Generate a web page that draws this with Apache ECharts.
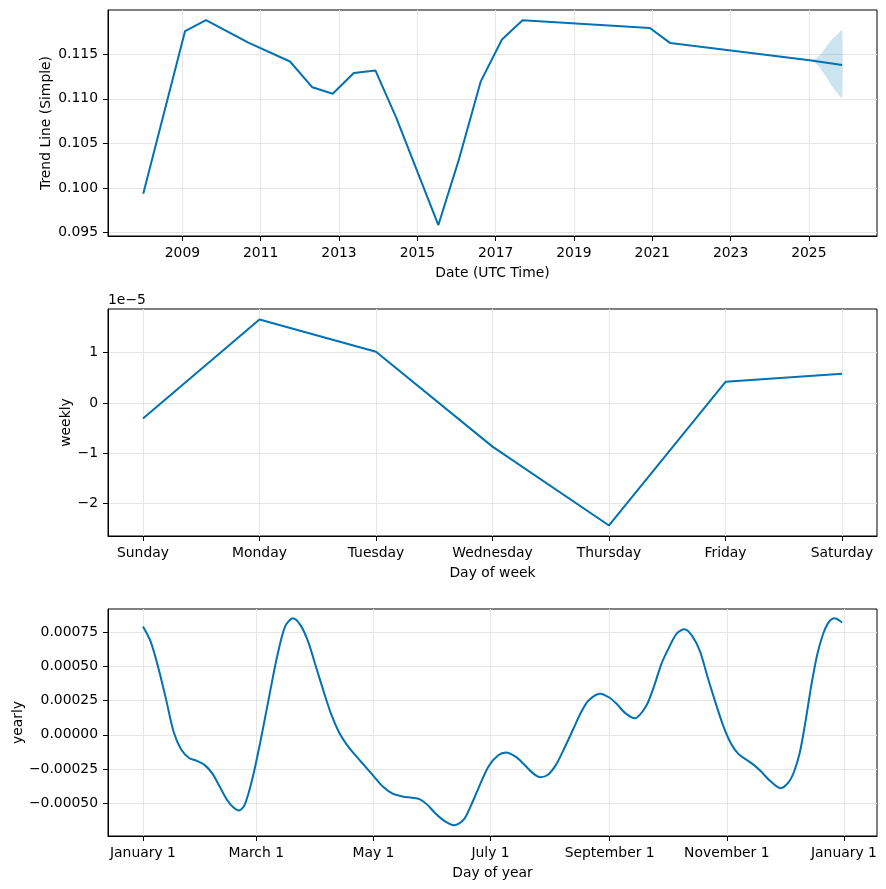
<!DOCTYPE html>
<html>
<head>
<meta charset="utf-8">
<script src="https://cdn.jsdelivr.net/npm/echarts@6.0.0/dist/echarts.min.js"></script>
<style>
html,body{margin:0;padding:0;background:#fff;}
#chart{width:886px;height:889px;}
</style>
</head>
<body>
<div id="chart"></div>
<script>
// ---------- Data ----------
const trendDates = ['2008-01-01','2009-01-26','2009-08-09','2010-09-08','2011-10-01','2012-04-27','2012-11-03','2013-05-19','2013-12-06','2014-06-18','2015-07-16','2016-01-27','2016-08-14','2017-03-01','2017-09-09','2020-12-10','2021-06-18','2025-01-08','2025-11-07'];
const trendValues = [0.09937,0.11759,0.11881,0.11629,0.11418,0.11129,0.11056,0.11289,0.11318,0.1079,0.09586,0.10333,0.11192,0.11665,0.11880,0.11793,0.11624,0.11433,0.11378];
const bandDates = ['2025-01-08','2025-03-01','2025-04-20','2025-06-10','2025-07-30','2025-09-20','2025-11-07'];
const bandLower = [0.11433,0.11400,0.11335,0.11250,0.11150,0.11070,0.11008];
const bandUpper = [0.11433,0.11450,0.11500,0.11580,0.11660,0.11715,0.11768];
const yearTicks = [2009,2011,2013,2015,2017,2019,2021,2023,2025];
const trendTicks = [0.095,0.100,0.105,0.110,0.115];

const weekDays = ['Sunday','Monday','Tuesday','Wednesday','Thursday','Friday','Saturday'];
const weeklyValues = [-0.31e-5,1.66e-5,1.02e-5,-0.87e-5,-2.44e-5,0.42e-5,0.58e-5];
const weeklyTicks = [-2e-5,-1e-5,0,1e-5];

const yearlyDays = [0,4,8,12,16,20,24,28,32,36,40,44,47,50,53,57,61,66,70,74,78,82,86,90,94,98,102,106,110,115,120,125,130,135,140,144,148,152,156,162,167,171,175,180,185,189,194,198,203,207,211,215,219,224,228,232,238,243,247,251,256,262,266,270,274,278,282,286,290,294,298,302,306,310,314,318,322,326,332,336,339,342,345,348,351,354,357,360,364];
const yearlyValues = [0.00079,0.00068,0.00049,0.00026,0.00002,-0.00011,-0.00017,-0.00019,-0.00022,-0.00028,-0.00038,-0.00048,-0.00053,-0.000553,-0.00051,-0.00032,-0.00006,0.00030,0.00058,0.00079,0.00085,0.00080,0.00068,0.00050,0.00032,0.00015,0.00002,-0.00007,-0.00014,-0.00022,-0.00030,-0.00038,-0.00043,-0.00045,-0.00046,-0.00047,-0.00051,-0.00057,-0.00062,-0.00066,-0.00062,-0.00051,-0.00038,-0.00023,-0.00015,-0.00013,-0.00016,-0.00021,-0.00028,-0.00031,-0.00029,-0.00022,-0.00011,0.00004,0.00016,0.00025,0.00030,0.00027,0.00022,0.00016,0.00012,0.00021,0.00035,0.00052,0.00064,0.00074,0.00077,0.00072,0.00061,0.00042,0.00024,0.00007,-0.00006,-0.00014,-0.00018,-0.00022,-0.00027,-0.00033,-0.00039,-0.00035,-0.00027,-0.00013,0.00010,0.00036,0.00058,0.00073,0.00082,0.00085,0.00082];
const monthTickDays = [0,59,120,181,243,304,365];
const monthTickLabels = ['January 1','March 1','May 1','July 1','September 1','November 1','January 1'];
const yearlyTicks = [-0.0005,-0.00025,0,0.00025,0.0005,0.00075];

// ---------- Helpers ----------
function decYear(s){
  const d = Date.parse(s + 'T00:00:00Z');
  const y = new Date(d).getUTCFullYear();
  const a = Date.UTC(y,0,1), b = Date.UTC(y+1,0,1);
  return y + (d - a) / (b - a);
}
const minus = s => String(s).replace('-', '\u2212');
const FONT = 'DejaVu Sans';
const FS = 13.9;
const LINE = '#0072B2';
const GRIDC = '#e6e6e6';

function axisBase(gridIndex, min, max, ticks, fmt, name, gap, margin){
  return {
    type:'value', gridIndex, min, max,
    name, nameLocation:'middle', nameGap:gap, nameMoveOverlap:false,
    nameTextStyle:{color:'#000', fontFamily:FONT, fontSize:FS},
    axisLine:{show:true, onZero:false, lineStyle:{color:'#000', width:1}},
    axisTick:{show:true, length:5, lineStyle:{color:'#000', width:1}, customValues:ticks},
    axisLabel:{color:'#000', fontFamily:FONT, fontSize:FS, margin, customValues:ticks, formatter:fmt, showMinLabel:true, showMaxLabel:true, hideOverlap:false},
    splitLine:{show:true, lineStyle:{color:GRIDC, width:1}}
  };
}

const trendData = trendDates.map((d,i) => [decYear(d), trendValues[i]]);
const bandData = bandDates.map((d,i) => [decYear(d), bandLower[i], bandUpper[i]]);
const weeklyData = weekDays.map((d,i) => [i, weeklyValues[i]]);
const yearlyData = yearlyDays.map((d,i) => [d, yearlyValues[i]]);

const gridCommon = {left:108, width:769, show:true, borderColor:'#000', borderWidth:1, backgroundColor:'transparent', outerBoundsMode:'none', containLabel:false};

const option = {
  animation:false,
  backgroundColor:'#fff',
  grid:[
    Object.assign({top:10, height:226}, gridCommon),
    Object.assign({top:309, height:227}, gridCommon),
    Object.assign({top:609, height:227}, gridCommon)
  ],
  xAxis:[
    axisBase(0, 2007.10, 2026.74, yearTicks, v => String(Math.round(v)), 'Date (UTC Time)', 30, 10),
    axisBase(1, -0.3, 6.3, weekDays.map((d,i)=>i), v => weekDays[Math.round(v)], 'Day of week', 30, 10),
    axisBase(2, -18.2, 382.2, monthTickDays, v => monthTickLabels[monthTickDays.indexOf(Math.round(v))] || '', 'Day of year', 30, 10)
  ],
  yAxis:[
    axisBase(0, 0.09463, 0.11995, trendTicks, v => v.toFixed(3), 'Trend Line (Simple)', 55, 10),
    axisBase(1, -2.65e-5, 1.87e-5, weeklyTicks, v => minus(Math.round(v/1e-5)), 'weekly', 35, 10),
    axisBase(2, -0.000739, 0.000918, yearlyTicks, v => minus(v.toFixed(5)), 'yearly', 83, 10)
  ],
  graphic:[{type:'text', left:108, top:293, style:{text:'1e\u22125', fill:'#000', font:FS+'px "DejaVu Sans"'}}],
  series:[
    {
      type:'custom', xAxisIndex:0, yAxisIndex:0, data:bandData, silent:true, encode:{x:0, y:[1,2]},
      renderItem:function(params, api){
        if (params.dataIndex !== 0) return;
        const up = bandData.map(p => api.coord([p[0], p[2]]));
        const lo = bandData.map(p => api.coord([p[0], p[1]])).reverse();
        return {type:'polygon', shape:{points:up.concat(lo), smooth:0.2}, style:{fill:LINE, opacity:0.2, stroke:null}};
      }
    },
    {type:'line', xAxisIndex:0, yAxisIndex:0, data:trendData, showSymbol:false, lineStyle:{color:LINE, width:2}, itemStyle:{color:LINE}},
    {type:'line', xAxisIndex:1, yAxisIndex:1, data:weeklyData, showSymbol:false, lineStyle:{color:LINE, width:2}, itemStyle:{color:LINE}},
    {type:'line', xAxisIndex:2, yAxisIndex:2, data:yearlyData, smooth:0.3, showSymbol:false, lineStyle:{color:LINE, width:2}, itemStyle:{color:LINE}}
  ]
};
const chart = echarts.init(document.getElementById('chart'), null, {renderer:'canvas'});
chart.setOption(option);
</script>
</body>
</html>
